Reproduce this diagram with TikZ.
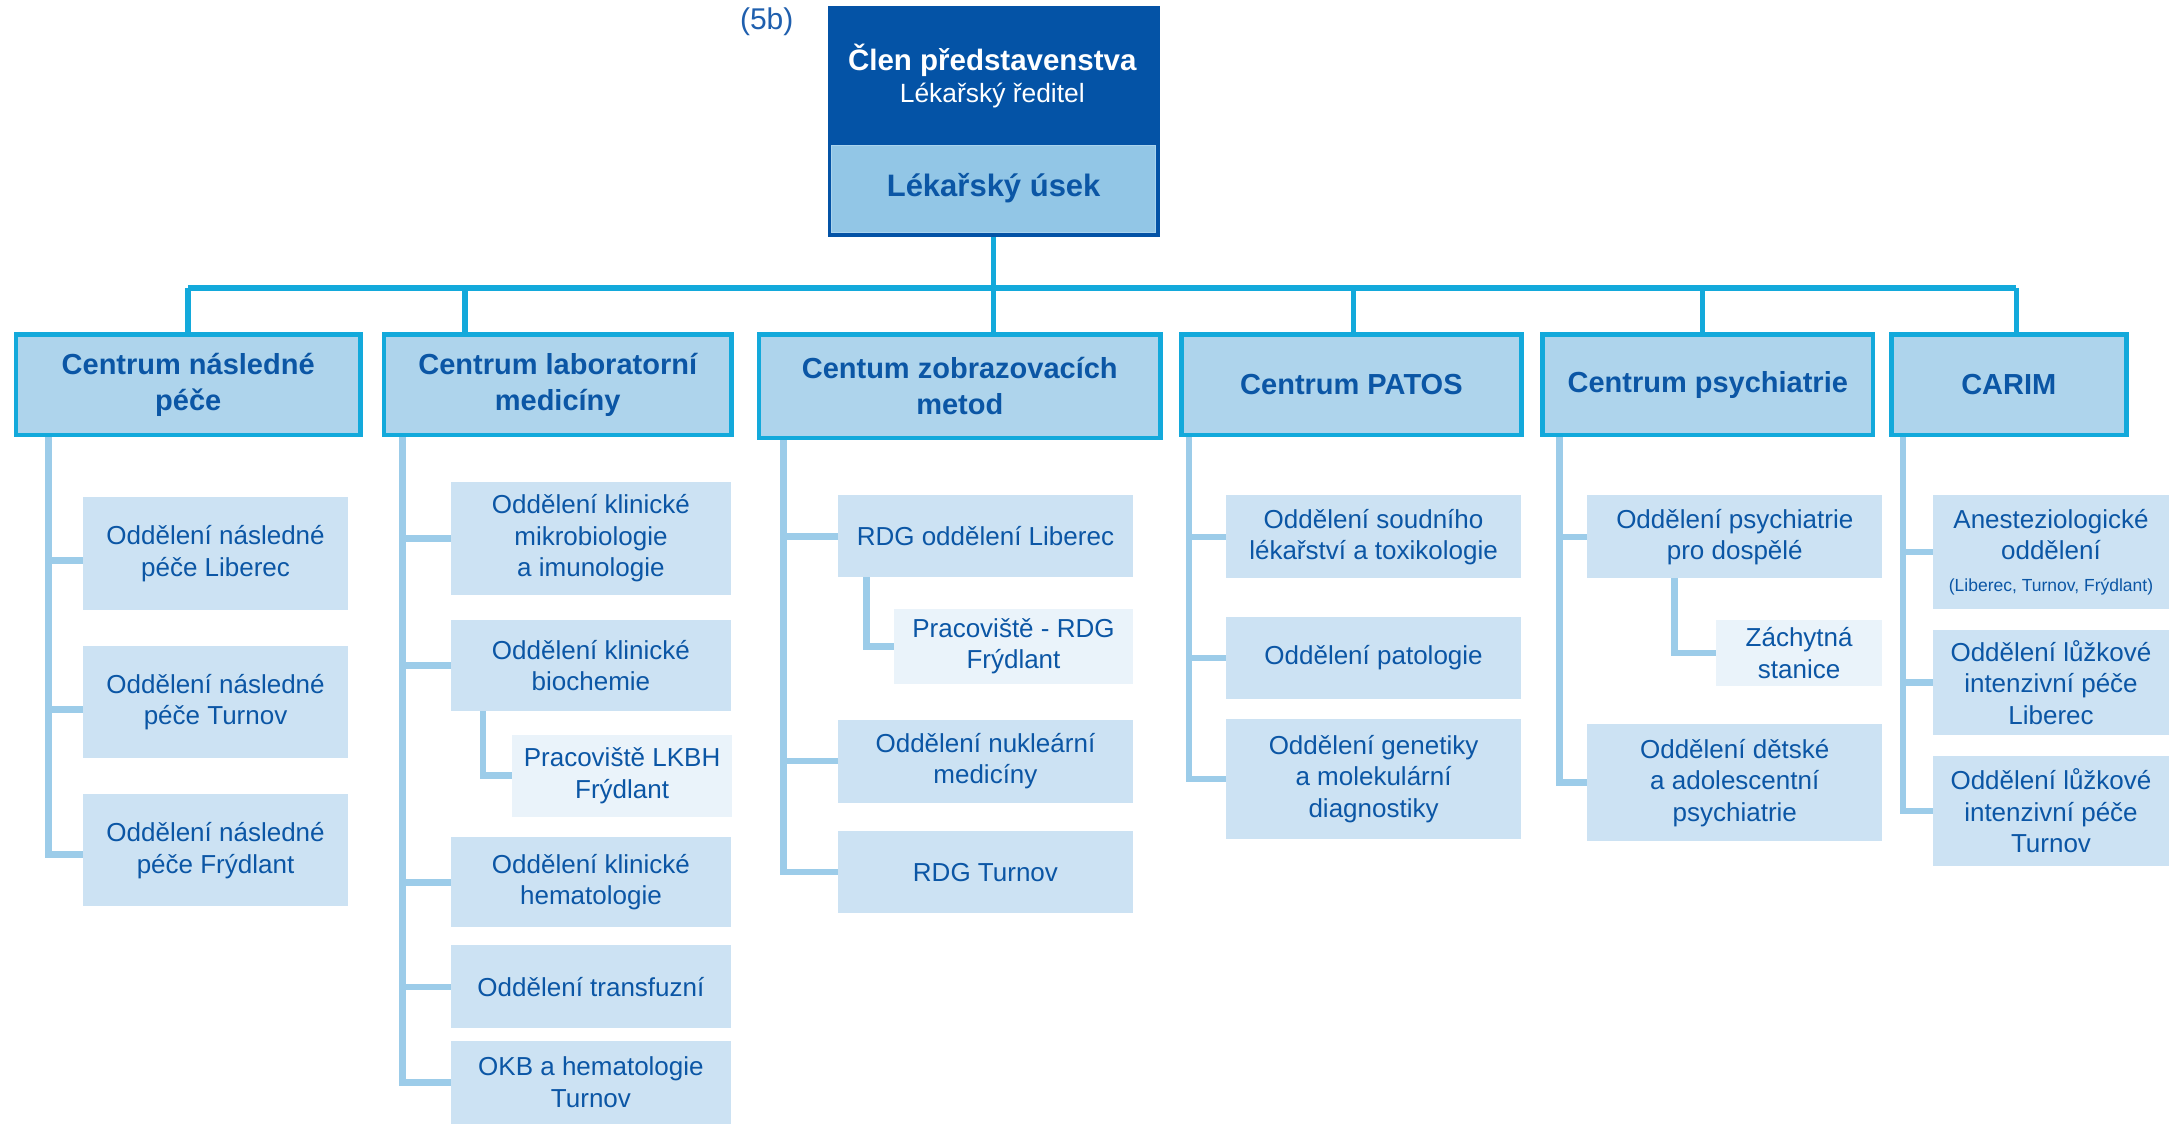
\documentclass[tikz,border=0pt]{standalone}
\usepackage{fontspec}
\setmainfont{Liberation Sans}
\usetikzlibrary{calc}
\pgfdeclarelayer{bg}
\pgfsetlayers{bg,main}
\definecolor{topdark}{HTML}{0453A6}
\definecolor{toplight}{HTML}{92C6E6}
\definecolor{busc}{HTML}{13A9DB}
\definecolor{ctrfill}{HTML}{AED4EC}
\definecolor{kidfill}{HTML}{CCE2F3}
\definecolor{subfill}{HTML}{EAF3FA}
\definecolor{spinec}{HTML}{9CCCE9}
\definecolor{tblue}{HTML}{0B56A5}
\newcommand\obox[7]{\node[#6, minimum width={(#4-#2)*1.3839pt}, minimum height={(#5-#3)*1.3839pt}] (#1) at ({(#2+#4)/2},{(#3+#5)/2}) {#7};}
\tikzset{
  ctr/.style={draw=busc, line width=4.5pt, fill=ctrfill, text=tblue, align=center,
    inner sep=0pt, outer sep=0pt, font=\fontsize{29}{36}\selectfont\bfseries},
  kid/.style={fill=kidfill, text=tblue, align=center, inner sep=0pt, outer sep=0pt,
    font=\fontsize{26}{31.5}\selectfont},
  subkid/.style={kid, fill=subfill},
  bus/.style={draw=busc, line width=5.5pt},
  spn/.style={draw=spinec, line width=6.5pt},
}
\begin{document}
\begin{tikzpicture}[x=1.3839pt, y=-1.3839pt]
\useasboundingbox (0,0) rectangle (1568,812);

% top
\node[text={rgb,255:red,31;green,95;blue,174}, font=\fontsize{30}{34}\selectfont, inner sep=0pt] (lab5b) at (554,16) {(5b)};
\obox{top}{598}{4}{838}{171}{fill=topdark, inner sep=0pt, outer sep=0pt}{}
\node[text=white, font=\fontsize{29.5}{34}\selectfont\bfseries, inner sep=0pt, anchor=base] (clen) at (717,50.6) {Člen představenstva};
\node[text=white, font=\fontsize{26.4}{32}\selectfont, inner sep=0pt, anchor=base] (ured) at (717,73.7) {Lékařský ředitel};
\obox{usek}{601}{105}{835}{168}{fill=toplight, draw={rgb,255:red,170;green,212;blue,238}, line width=0.8pt, text=tblue, inner sep=0pt, outer sep=0pt, font=\fontsize{31}{36}\selectfont\bfseries}{Lékařský úsek\\[-4pt]\strut}

% centres
\obox{c1}{11.6}{241.6}{260.4}{314.4}{ctr}{Centrum následné\\péče}
\obox{c2}{277.6}{241.6}{528.4}{314.4}{ctr}{Centrum laboratorní\\medicíny}
\obox{c3}{548.6}{241.6}{838.4}{316.4}{ctr}{Centum zobrazovacích\\metod}
\obox{c4}{853.6}{241.6}{1099.4}{314.4}{ctr}{Centrum PATOS}
\obox{c5}{1114.6}{241.6}{1353.4}{314.4}{ctr}{Centrum psychiatrie}
\obox{c6}{1366.6}{241.6}{1536.4}{314.4}{ctr}{CARIM}

% column 1
\obox{k11}{60}{359}{251.5}{441}{kid}{Oddělení následné\\péče Liberec}
\obox{k12}{60}{467}{251.5}{548}{kid}{Oddělení následné\\péče Turnov}
\obox{k13}{60}{574}{251.5}{655}{kid}{Oddělení následné\\péče Frýdlant}

% column 2
\obox{k21}{326}{348}{528}{430}{kid}{Oddělení klinické\\mikrobiologie\\a imunologie}
\obox{k22}{326}{448}{528}{514}{kid}{Oddělení klinické\\biochemie}
\obox{k221}{370}{531}{529}{590}{subkid}{Pracoviště LKBH\\Frýdlant}
\obox{k23}{326}{605}{528}{670}{kid}{Oddělení klinické\\hematologie}
\obox{k24}{326}{683}{528}{743}{kid}{Oddělení transfuzní}
\obox{k25}{326}{752}{528}{812}{kid}{OKB a hematologie\\Turnov}

% column 3
\obox{k31}{605.5}{358}{818.6}{417}{kid}{RDG oddělení Liberec}
\obox{k311}{646}{440}{818.6}{494}{subkid}{Pracoviště - RDG\\Frýdlant}
\obox{k32}{605.5}{520}{818.6}{580}{kid}{Oddělení nukleární\\medicíny}
\obox{k33}{605.5}{600.5}{818.6}{660}{kid}{RDG Turnov}

% column 4
\obox{k41}{886}{358}{1099}{418}{kid}{Oddělení soudního\\lékařství a toxikologie}
\obox{k42}{886}{446}{1099}{505}{kid}{Oddělení patologie}
\obox{k43}{886}{519.5}{1099}{606}{kid}{Oddělení genetiky\\a molekulární\\diagnostiky}

% column 5
\obox{k51}{1147}{358}{1360}{418}{kid}{Oddělení psychiatrie\\pro dospělé}
\obox{k511}{1240}{448}{1360}{496}{subkid}{Záchytná\\stanice}
\obox{k52}{1147}{523}{1360}{608}{kid}{Oddělení dětské\\a adolescentní\\psychiatrie}

% column 6
\obox{k61}{1397}{358}{1567}{440}{kid}{Anesteziologické\\oddělení\\{\fontsize{17.5}{20}\selectfont (Liberec, Turnov, Frýdlant)}}
\obox{k62}{1397}{455}{1567}{531}{kid}{Oddělení lůžkové\\intenzivní péče\\Liberec}
\obox{k63}{1397}{546}{1567}{626}{kid}{Oddělení lůžkové\\intenzivní péče\\Turnov}

\begin{pgfonlayer}{bg}
\fill[white] (0,0) rectangle (1568,812);
% bus
\coordinate (d1) at (136,208);
\coordinate (d2) at (336,208);
\coordinate (d4) at (978,208);
\coordinate (d5) at (1230,208);
\coordinate (d6) at (1457,208);
\draw[bus] (d1) -- (d6);
\draw[bus] (top.south) -- (top.south |- c3.north);
\draw[bus] (d1) -- (d1 |- c1.north);
\draw[bus] (d2) -- (d2 |- c2.north);
\draw[bus] (d4) -- (d4 |- c4.north);
\draw[bus] (d5) -- (d5 |- c5.north);
\draw[bus] (d6) -- (d6 |- c6.north);
% spines
\coordinate (s1) at (35,316);
\coordinate (s2) at (291,316);
\coordinate (s3) at (566,318);
\coordinate (s4) at (859,316);
\coordinate (s5) at (1127,316);
\coordinate (s6) at (1375,316);
\draw[spn] (s1) |- ([yshift=-7pt]k11.west);
\draw[spn] (s1) |- ([yshift=-7pt]k12.west);
\draw[spn] (s1) |- ([yshift=-4pt]k13.west);
\foreach \k in {k21,k22,k23,k24,k25} \draw[spn] (s2) |- (\k.west);
\foreach \k in {k31,k32,k33} \draw[spn] (s3) |- (\k.west);
\foreach \k in {k41,k42,k43} \draw[spn] (s4) |- (\k.west);
\foreach \k in {k51,k52} \draw[spn] (s5) |- (\k.west);
\foreach \k in {k61,k62,k63} \draw[spn] (s6) |- (\k.west);
% sub spines
\coordinate (t22) at (349,514);
\coordinate (t31) at (626,417);
\coordinate (t51) at (1210,418);
\draw[spn] (t22) |- (k221.west);
\draw[spn] (t31) |- (k311.west);
\draw[spn] (t51) |- (k511.west);
\end{pgfonlayer}
\end{tikzpicture}
\end{document}
